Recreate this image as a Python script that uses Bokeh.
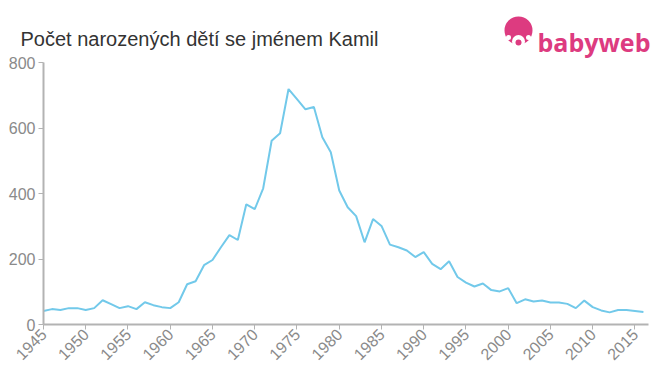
from bokeh.plotting import figure
from bokeh.models import Range1d, FixedTicker, ColumnDataSource
from bokeh.core.properties import value
from bokeh.embed import file_html
from bokeh.resources import INLINE
import math

years = list(range(1945, 2017))
counts = [41, 47, 44, 50, 50, 44, 50, 74, 62, 50,
          56, 47, 68, 59, 53, 50, 68, 123, 132, 181,
          197, 236, 273, 258, 367, 352, 416, 561, 584, 719,
          688, 657, 664, 572, 526, 409, 358, 331, 251, 322,
          301, 244, 236, 226, 206, 221, 185, 169, 193, 145,
          128, 116, 125, 105, 101, 111, 65, 77, 70, 73,
          67, 67, 63, 50, 73, 53, 43, 37, 44, 44,
          41, 38]
x_ticks = list(range(1945, 2016, 5))
y_ticks = [0, 200, 400, 600, 800]

title_text = "Počet narozených dětí se jménem Kamil"
logo_text = "babyweb"

PINK = "#dd3b80"
GRAY = "#8a8a8a"

# page layout (pixels); the frame covers the whole page
W, H = 660, 375
PLOT_L, PLOT_R = 43, 648   # data area 1945..2016.6
PLOT_T, PLOT_B = 62, 324   # y = 800 .. y = 0

x0, x1 = 1945, 2016.6
ppx = (PLOT_R - PLOT_L) / (x1 - x0)
ppy = (PLOT_B - PLOT_T) / 800
xr = Range1d(x0 - PLOT_L / ppx, x1 + (W - PLOT_R) / ppx)
yr = Range1d(-(H - PLOT_B) / ppy, PLOT_B / ppy)

p = figure(width=W, height=H, output_backend="svg", toolbar_location=None,
           x_range=xr, y_range=yr,
           min_border_left=0, min_border_right=0, min_border_top=0,
           min_border_bottom=0)
p.frame_width = W
p.frame_height = H
p.outline_line_color = None
p.xgrid.visible = False
p.ygrid.visible = False
p.extra_x_ranges = {"px": Range1d(0, W)}
p.extra_y_ranges = {"py": Range1d(H, 0)}

src = ColumnDataSource(dict(x=years, y=counts))
p.line("x", "y", source=src, line_color="#72c9ea", line_width=2)

for ax in (p.xaxis[0], p.yaxis[0]):
    ax.axis_line_color = "#b3b3b3"
    ax.axis_line_width = 2
    ax.major_tick_line_color = "#b3b3b3"
    ax.major_tick_line_width = 1
    ax.major_tick_out = 5
    ax.major_tick_in = 0
    ax.minor_tick_line_color = None
    ax.major_label_text_color = GRAY
    ax.major_label_text_font = "Liberation Sans"
    ax.major_label_text_font_size = "16px"

p.xaxis.ticker = FixedTicker(ticks=x_ticks)
p.yaxis.ticker = FixedTicker(ticks=y_ticks)
p.xaxis.bounds = (x0, x1)
p.yaxis.bounds = (0, 800)
p.yaxis.fixed_location = x0
p.xaxis.fixed_location = 0
p.xaxis.major_label_orientation = math.pi / 4
p.xaxis.major_label_standoff = 2
p.yaxis.major_label_standoff = 3

# title and logo, drawn in page-pixel ranges
kw = dict(x_range_name="px", y_range_name="py")
p.text(x=[20], y=[38], text=[title_text], text_font=value("Liberation Sans"),
       text_font_size="20px", text_color="#333333", text_baseline="alphabetic", **kw)
p.circle(x=[518], y=[30], radius=14, fill_color=PINK, line_color=None, **kw)
p.circle(x=[518], y=[41], radius=6.5, fill_color="white", line_color=None, **kw)
p.circle(x=[518], y=[42], radius=3, fill_color=PINK, line_color=None, **kw)
p.circle(x=[508], y=[37], radius=2.5, fill_color="white", line_color=None, **kw)
p.circle(x=[528], y=[37], radius=2.5, fill_color="white", line_color=None, **kw)
p.text(x=[537], y=[41], text=[logo_text], text_font=value("Open Sans"),
       text_font_size="25px", text_font_style="bold", text_color=PINK,
       text_baseline="alphabetic", **kw)

open("out.html", "w").write(file_html(p, INLINE))
